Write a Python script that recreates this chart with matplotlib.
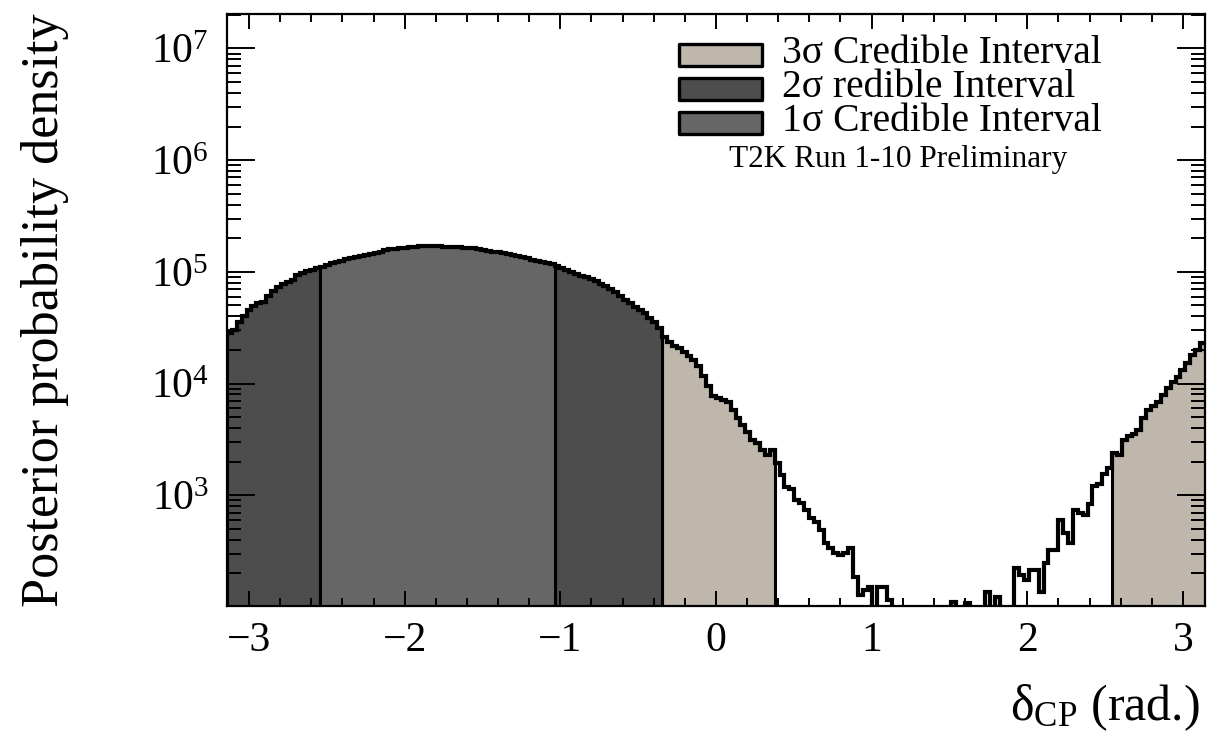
import numpy as np
import matplotlib
matplotlib.use("Agg")
import matplotlib.pyplot as plt
from matplotlib.patches import Rectangle
from matplotlib.ticker import LogLocator, MultipleLocator, FixedLocator

plt.rcParams['font.family'] = ['Liberation Serif', 'DejaVu Serif']
plt.rcParams['mathtext.fontset'] = 'custom'
plt.rcParams['mathtext.rm'] = 'Liberation Serif'
plt.rcParams['mathtext.it'] = 'Liberation Serif:italic'

# posterior density per bin, 200 bins over [-pi, pi]
density = [
    28500, 30300, 35800, 40500, 45800, 49800, 52900, 54000, 61100, 67800,
    73600, 78300, 81600, 85000, 94200, 98200, 102300, 104400, 108800, 111100,
    115800, 120700, 123200, 125800, 131100, 133800, 136600, 139400, 142300, 145300,
    148300, 151400, 157800, 161000, 161000, 164300, 164300, 167800, 167800, 171300,
    171300, 171300, 171300, 171300, 167800, 167800, 167800, 167800, 164300, 164300,
    164300, 161000, 157800, 154500, 151400, 151400, 148300, 145300, 142300, 139400,
    136600, 133800, 128400, 125800, 123200, 120700, 118200, 113400, 108800, 104400,
    100200, 96200, 92300, 90400, 86800, 83300, 78300, 75100, 70600, 66400,
    61100, 56300, 52900, 48700, 45800, 43000, 38800, 35800, 31600, 26300,
    23700, 21800, 20900, 19300, 17700, 16300, 14400, 11700, 9560, 7780,
    7460, 7160, 6870, 5830, 4940, 4270, 3700, 3140, 2950, 2550,
    2300, 2550, 1950, 1530, 1190, 1140, 912, 857, 742, 629,
    579, 491, 375, 339, 306, 293, 306, 339, 186, 129,
    143, 152, 0, 152, 152, 116, 0, 0, 0, 0,
    0, 0, 0, 0, 0, 0, 0, 0, 111, 0,
    0, 109, 0, 0, 0, 137, 0, 124, 0, 0,
    0, 224, 194, 175, 215, 215, 137, 249, 325, 325,
    603, 462, 375, 742, 697, 669, 839, 1220, 1270, 1560,
    1760, 2400, 2300, 3140, 3410, 3550, 3860, 4940, 5830, 6330,
    6870, 7940, 9170, 10400, 11500, 13300, 15400, 18100, 20100, 23200,
]

# credible interval bounds in delta_CP (rad.)
sigma1_range = [(-2.545, -1.037)]
sigma2_range = [(-np.pi, -2.545), (-1.037, -0.346)]
sigma3_range = [(-0.346, 0.377), (2.545, np.pi)]

legend_labels = ["3σ Credible Interval", "2σ redible Interval", "1σ Credible Interval"]
legend_colors = ["#bfb6ac", "#4d4d4d", "#666666"]

vals = np.array(density, dtype=float)
edges = np.linspace(-np.pi, np.pi, len(vals) + 1)
centers = 0.5 * (edges[:-1] + edges[1:])
floor = 1.0
plot_vals = np.where(vals > 0, vals, floor)

fig = plt.figure(figsize=(12.11, 7.52), dpi=100)
ax = fig.add_axes([0.1874, 0.1941, 0.8076, 0.7872])


def draw_region(ranges, color):
    for lo, hi in ranges:
        idx = np.where((centers > lo) & (centers < hi))[0]
        i0, i1 = idx[0], idx[-1] + 1
        ax.stairs(plot_vals[i0:i1], edges[i0:i1 + 1], baseline=floor,
                  fill=True, color=color, lw=0)
        ax.stairs(plot_vals[i0:i1], edges[i0:i1 + 1], baseline=floor,
                  fill=False, color='black', lw=2.2)


draw_region(sigma3_range, legend_colors[0])
draw_region(sigma2_range, legend_colors[1])
draw_region(sigma1_range, legend_colors[2])

# full posterior outline
ax.stairs(plot_vals, edges, baseline=None, color='black', lw=3.0)

ax.set_yscale('log')
ax.set_xlim(-np.pi, np.pi)
ax.set_ylim(102, 2.03e7)

ax.xaxis.set_major_locator(FixedLocator([-3, -2, -1, 0, 1, 2, 3]))
ax.xaxis.set_minor_locator(MultipleLocator(0.2))
ax.yaxis.set_major_locator(LogLocator(base=10))
ax.yaxis.set_minor_locator(LogLocator(base=10, subs=np.arange(2, 10)))

ax.tick_params(which='both', direction='in', top=True, right=True, width=1.4)
ax.tick_params(axis='x', which='major', length=11, labelsize=30, pad=11)
ax.tick_params(axis='x', which='minor', length=6)
ax.tick_params(axis='y', which='major', length=20, labelsize=30, pad=13)
ax.tick_params(axis='y', which='minor', length=10)
for s in ax.spines.values():
    s.set_linewidth(1.6)

# legend drawn by hand to match the layout
for i, (lab, col) in enumerate(zip(legend_labels, legend_colors)):
    yc = 0.9316 - i * 0.0574
    ax.add_patch(Rectangle((0.4622, yc - 0.0186), 0.0849, 0.0372,
                           transform=ax.transAxes, facecolor=col,
                           edgecolor='black', lw=2.4, joinstyle='round',
                           zorder=5))
    ax.text(0.5675, yc - 0.0149, lab, transform=ax.transAxes, fontsize=28.5,
            ha='left', va='baseline', zorder=5)

ax.text(0.6861, 0.742, "T2K Run 1-10 Preliminary", transform=ax.transAxes,
        fontsize=22.5, ha='center', va='baseline')

fig.text(0.037, 0.587, "Posterior probability density", rotation=90,
         fontsize=37.5, ha='center', va='center')
fig.text(0.9909, 0.042, r"δ$_{\mathrm{CP}}$ (rad.)", fontsize=36,
         ha='right', va='baseline')

fig.savefig("out.png", dpi=100)
